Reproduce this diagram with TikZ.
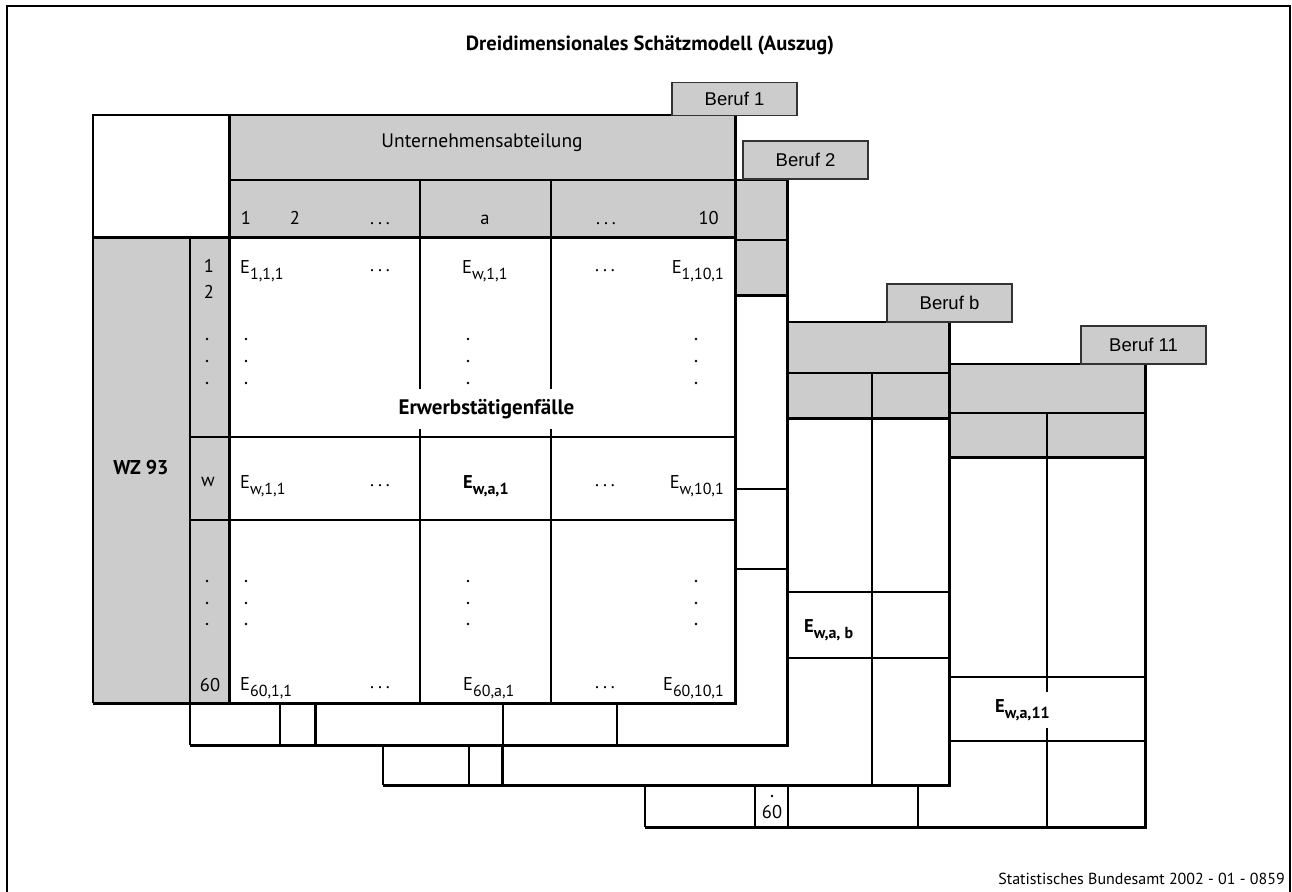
\documentclass[tikz,border=0pt]{standalone}
\usepackage{fontspec}
\setmainfont{PT Sans}
\newfontfamily\berufschrift{Liberation Sans}
\usepackage{xcolor}
\definecolor{zellgrau}{HTML}{CCCCCC}

% Fallzahl E mit tiefgestelltem Index
\newcommand{\Ez}[1]{E\raisebox{-6.5pt}{\fontsize{16}{16}\selectfont#1}}

\begin{document}
\begin{tikzpicture}[x=1pt, y=-1pt,
    font=\fontsize{18.5}{22}\selectfont,
    duenn/.style={line width=1.3pt},
    mittel/.style={line width=1.8pt},
    dick/.style={line width=3pt},
    beruf/.style={draw=black!80, line width=1.3pt, fill=zellgrau, inner sep=0pt,
        minimum width=125pt, minimum height=38pt,
        font=\berufschrift\fontsize{18.5}{20}\selectfont},
    eintrag/.style={inner sep=0pt, anchor=base west},
    mitte/.style={inner sep=0pt, anchor=base},
    rechts/.style={inner sep=0pt, anchor=base east},
    fett/.style={font=\bfseries\fontsize{18.5}{22}\selectfont}]
    \useasboundingbox (0,0) rectangle (1292,891);

    % Rahmen und Titel
    \draw[line width=1.8pt] (7,893) -- (7,6) -- (1290,6) -- (1290,893);
    \node[font=\bfseries\fontsize{20.5}{24}\selectfont] (titel) at (650,45) {Dreidimensionales Schätzmodell (Auszug)};
    \node[rechts, font=\fontsize{16}{18}\selectfont] (quelle) at (1285,884) {Statistisches Bundesamt 2002 - 01 - 0859};

    % Ebene Beruf 11 (ganz hinten)
    \fill[white] (645,364) rectangle (1145,827);
    \fill[zellgrau] (645,364) rectangle (1145,457);
    \draw[duenn] (645,413) -- (1145,413);
    \draw[duenn] (645,677) -- (1145,677);
    \draw[duenn] (645,741) -- (1145,741);
    \draw[duenn] (1047,413) -- (1047,827);
    \foreach \xs in {755,788,918}
        \draw[duenn] (\xs,457) -- (\xs,827);
    \draw[duenn] (645,364) -- (645,827);
    \draw[mittel] (645,364) -- (1145,364);
    \draw[dick] (645,457) -- (1145,457);
    \draw[dick] (1145,364) -- (1145,827) -- (645,827);
    \node[eintrag, fill=white, inner ysep=7pt, fett] (ewa11) at (995,712) {\Ez{w,a,11}};
    \node[mitte] (zeile60d) at (772,818) {60};
    \fill (772,796) circle (1.3pt);
    \node[beruf] (beruf11) at (1143.5,345) {Beruf 11};

    % Ebene Beruf b
    \fill[white] (383,322) rectangle (949,785);
    \fill[zellgrau] (383,322) rectangle (949,418);
    \draw[duenn] (383,373) -- (949,373);
    \draw[duenn] (383,592) -- (949,592);
    \draw[duenn] (383,658) -- (949,658);
    \draw[duenn] (872,373) -- (872,785);
    \draw[duenn] (469,418) -- (469,785);
    \draw[dick] (502,418) -- (502,785);
    \draw[duenn] (383,322) -- (383,785);
    \draw[mittel] (383,322) -- (949,322);
    \draw[dick] (383,418) -- (949,418);
    \draw[dick] (949,322) -- (949,785) -- (383,785);
    \node[eintrag, fett] (ewab) at (804,632) {\Ez{w,a, b}};
    \node[beruf] (berufb) at (949.5,303) {Beruf b};

    % Ebene Beruf 2
    \fill[white] (190,180) rectangle (787,745);
    \fill[zellgrau] (190,180) rectangle (787,295);
    \draw[duenn] (190,240) -- (787,240);
    \draw[duenn] (190,489) -- (787,489);
    \draw[duenn] (190,569) -- (787,569);
    \foreach \xs in {280,503,617}
        \draw[duenn] (\xs,295) -- (\xs,745);
    \draw[dick] (315,295) -- (315,745);
    \draw[duenn] (190,180) -- (190,745);
    \draw[duenn] (190,180) -- (787,180);
    \draw[dick] (190,295) -- (787,295);
    \draw[dick] (787,180) -- (787,745) -- (190,745);
    \node[beruf] (beruf2) at (805.5,160) {Beruf 2};

    % Ebene Beruf 1 (vorne)
    \fill[white] (93,115) rectangle (229,237);
    \fill[zellgrau] (229,115) rectangle (735,237);
    \fill[zellgrau] (93,237) rectangle (229,703);
    \fill[white] (229,237) rectangle (735,703);
    \draw[duenn] (93,115) rectangle (229,237);
    \draw[duenn] (229,180) -- (735,180);
    \draw[duenn] (420,180) -- (420,703);
    \draw[duenn] (551,180) -- (551,703);
    \draw[duenn] (190,437) -- (735,437);
    \draw[duenn] (190,520) -- (735,520);
    \draw[duenn] (190,237) -- (190,703);
    \draw[mittel] (93,237) -- (93,703);
    \draw[mittel] (229,115) -- (735,115);
    \draw[dick] (93,237) -- (735,237);
    \draw[dick] (229,115) -- (229,703);
    \draw[dick] (735,115) -- (735,703) -- (93,703);
    \node[beruf, minimum height=33pt] (beruf1) at (734.5,99) {Beruf 1};

    % Kopf
    \node[mitte, font=\fontsize{19.5}{22}\selectfont] (abteilung) at (482,147) {Unternehmensabteilung};
    \node[mitte] (sp1) at (246,224) {1};
    \node[mitte] (sp2) at (295,224) {2};
    \node[mitte] (spp1) at (380,224) {.\hspace{4pt}.\hspace{4pt}.};
    \node[mitte] (spa) at (485,224) {a};
    \node[mitte] (spp2) at (606,224) {.\hspace{4pt}.\hspace{4pt}.};
    \node[rechts] (sp10) at (719,224) {10};

    % Vorspalte
    \node[font=\bfseries\fontsize{20}{22}\selectfont] (wz) at (141,467) {WZ 93};
    \node[mitte] (z1) at (209,272) {1};
    \node[mitte] (z2) at (209,298) {2};
    \node[mitte] (zw) at (208,486) {w};
    \node[mitte] (z60) at (210,691) {60};

    % Zellen
    \node[eintrag] (e111) at (240,273) {\Ez{1,1,1}};
    \node[mitte] (p11) at (380,271) {.\hspace{4pt}.\hspace{4pt}.};
    \node[eintrag] (ew11) at (462,273) {\Ez{w,1,1}};
    \node[mitte] (p12) at (605,271) {.\hspace{4pt}.\hspace{4pt}.};
    \node[rechts] (e1101) at (724,273) {\Ez{1,10,1}};

    \node[eintrag] (ew11b) at (240,488) {\Ez{w,1,1}};
    \node[mitte] (pw1) at (380,486) {.\hspace{4pt}.\hspace{4pt}.};
    \node[eintrag, fett] (ewa1) at (463,488) {\Ez{w,a,1}};
    \node[mitte] (pw2) at (605,486) {.\hspace{4pt}.\hspace{4pt}.};
    \node[rechts] (ew101) at (724,488) {\Ez{w,10,1}};

    \node[eintrag] (e6011) at (240,690) {\Ez{60,1,1}};
    \node[mitte] (p601) at (380,688) {.\hspace{4pt}.\hspace{4pt}.};
    \node[eintrag] (e60a1) at (463,690) {\Ez{60,a,1}};
    \node[mitte] (p602) at (605,688) {.\hspace{4pt}.\hspace{4pt}.};
    \node[rechts] (e60101) at (724,690) {\Ez{60,10,1}};

    % senkrechte Punkte
    \foreach \xs in {207,246,468,696}
        \foreach \ys in {339,361,383,581,603,624}
            \fill (\xs,\ys) circle (1.4pt);

    \node[fill=white, inner xsep=3pt, minimum height=40pt, font=\bfseries\fontsize{21}{24}\selectfont] (erwerb) at (486.5,409) {Erwerbstätigenfälle};
\end{tikzpicture}
\end{document}
